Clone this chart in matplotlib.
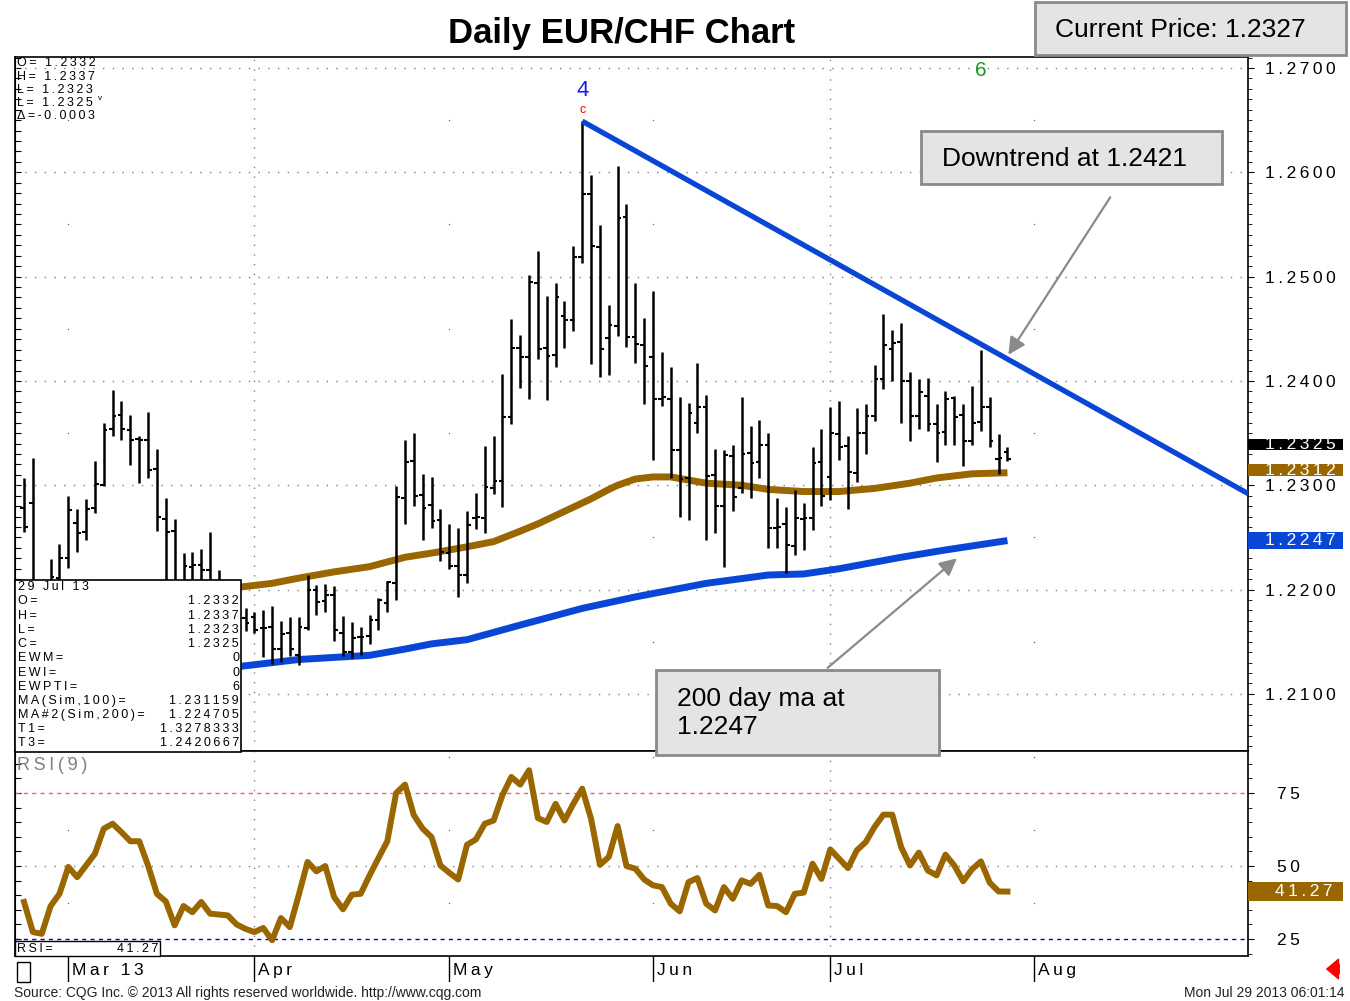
import numpy as np
import matplotlib
matplotlib.use("Agg")
import matplotlib.pyplot as plt
from matplotlib.patches import Rectangle, FancyArrowPatch
from matplotlib.transforms import blended_transform_factory
from matplotlib.ticker import MultipleLocator

plt.rcParams['font.family'] = ['Liberation Sans', 'DejaVu Sans']

# daily EUR/CHF bars, trading day 0 = 22 Feb 2013 ... 111 = 29 Jul 2013
opens = [1.2278, 1.2283, 1.2195, 1.2190, 1.2211, 1.2230, 1.2264, 1.2255, 1.2278, 1.2300,
         1.2354, 1.2367, 1.2353, 1.2344, 1.2343, 1.2316, 1.2268, 1.2256, 1.2205, 1.2222,
         1.2224, 1.2219, 1.2200, 1.2180, 1.2175, 1.2173, 1.2174, 1.2163, 1.2164, 1.2143,
         1.2158, 1.2137, 1.2163, 1.2200, 1.2189, 1.2195, 1.2158, 1.2140, 1.2155, 1.2156,
         1.2171, 1.2187, 1.2206, 1.2288, 1.2323, 1.2291, 1.2281, 1.2267, 1.2235, 1.2223,
         1.2214, 1.2269, 1.2269, 1.2297, 1.2304, 1.2365, 1.2432, 1.2423, 1.2494, 1.2432,
         1.2425, 1.2462, 1.2458, 1.2519, 1.2579, 1.2528, 1.2441, 1.2453, 1.2557, 1.2442,
         1.2434, 1.2423, 1.2383, 1.2383, 1.2334, 1.2307, 1.2360, 1.2375, 1.2310, 1.2280,
         1.2328, 1.2297, 1.2331, 1.2322, 1.2339, 1.2259, 1.2263, 1.2242, 1.2268, 1.2269,
         1.2322, 1.2308, 1.2349, 1.2338, 1.2312, 1.2350, 1.2366, 1.2402, 1.2431, 1.2437,
         1.2400, 1.2366, 1.2386, 1.2359, 1.2351, 1.2384, 1.2367, 1.2342, 1.2361, 1.2375,
         1.2325, 1.2332]
highs = [1.2307, 1.2326, 1.2205, 1.2229, 1.2244, 1.2290, 1.2277, 1.2287, 1.2323, 1.2360,
         1.2391, 1.2381, 1.2367, 1.2347, 1.2370, 1.2335, 1.2288, 1.2268, 1.2235, 1.2236,
         1.2239, 1.2255, 1.2219, 1.2200, 1.2195, 1.2182, 1.2179, 1.2180, 1.2184, 1.2170,
         1.2174, 1.2174, 1.2214, 1.2204, 1.2205, 1.2203, 1.2175, 1.2169, 1.2164, 1.2176,
         1.2192, 1.2208, 1.2299, 1.2343, 1.2350, 1.2311, 1.2308, 1.2277, 1.2263, 1.2259,
         1.2275, 1.2293, 1.2338, 1.2347, 1.2407, 1.2459, 1.2444, 1.2502, 1.2525, 1.2481,
         1.2494, 1.2477, 1.2529, 1.2649, 1.2597, 1.2549, 1.2473, 1.2606, 1.2570, 1.2494,
         1.2460, 1.2486, 1.2428, 1.2413, 1.2385, 1.2379, 1.2417, 1.2387, 1.2335, 1.2334,
         1.2339, 1.2385, 1.2357, 1.2363, 1.2350, 1.2288, 1.2279, 1.2295, 1.2283, 1.2337,
         1.2354, 1.2375, 1.2381, 1.2347, 1.2374, 1.2378, 1.2415, 1.2464, 1.2449, 1.2456,
         1.2409, 1.2402, 1.2403, 1.2378, 1.2390, 1.2386, 1.2378, 1.2395, 1.2430, 1.2385,
         1.2349, 1.2337]
lows = [1.2255, 1.2185, 1.2170, 1.2180, 1.2205, 1.2221, 1.2236, 1.2248, 1.2273, 1.2299,
        1.2347, 1.2343, 1.2319, 1.2302, 1.2307, 1.2256, 1.2195, 1.2190, 1.2190, 1.2195,
        1.2200, 1.2185, 1.2170, 1.2160, 1.2155, 1.2160, 1.2158, 1.2135, 1.2129, 1.2131,
        1.2136, 1.2128, 1.2161, 1.2176, 1.2179, 1.2151, 1.2136, 1.2134, 1.2137, 1.2148,
        1.2161, 1.2179, 1.2190, 1.2263, 1.2280, 1.2248, 1.2259, 1.2227, 1.2220, 1.2193,
        1.2206, 1.2258, 1.2254, 1.2292, 1.2279, 1.2359, 1.2393, 1.2383, 1.2421, 1.2382,
        1.2413, 1.2432, 1.2448, 1.2513, 1.2416, 1.2404, 1.2406, 1.2443, 1.2433, 1.2417,
        1.2378, 1.2324, 1.2376, 1.2307, 1.2270, 1.2267, 1.2350, 1.2248, 1.2254, 1.2222,
        1.2275, 1.2293, 1.2288, 1.2307, 1.2240, 1.2240, 1.2216, 1.2233, 1.2238, 1.2257,
        1.2280, 1.2286, 1.2324, 1.2277, 1.2303, 1.2330, 1.2362, 1.2392, 1.2400, 1.2360,
        1.2342, 1.2354, 1.2352, 1.2322, 1.2339, 1.2339, 1.2318, 1.2339, 1.2352, 1.2337,
        1.2311, 1.2323]
closes = [1.2260, 1.2200, 1.2180, 1.2212, 1.2230, 1.2276, 1.2254, 1.2277, 1.2301, 1.2353,
          1.2366, 1.2354, 1.2343, 1.2343, 1.2315, 1.2270, 1.2255, 1.2200, 1.2223, 1.2224,
          1.2219, 1.2200, 1.2180, 1.2175, 1.2170, 1.2168, 1.2161, 1.2163, 1.2143, 1.2157,
          1.2143, 1.2164, 1.2200, 1.2188, 1.2195, 1.2161, 1.2140, 1.2154, 1.2155, 1.2171,
          1.2190, 1.2207, 1.2289, 1.2322, 1.2290, 1.2278, 1.2266, 1.2236, 1.2223, 1.2214,
          1.2262, 1.2270, 1.2298, 1.2304, 1.2365, 1.2432, 1.2423, 1.2495, 1.2431, 1.2424,
          1.2480, 1.2458, 1.2519, 1.2579, 1.2529, 1.2431, 1.2454, 1.2556, 1.2442, 1.2435,
          1.2414, 1.2383, 1.2385, 1.2334, 1.2306, 1.2369, 1.2375, 1.2309, 1.2280, 1.2329,
          1.2289, 1.2330, 1.2321, 1.2339, 1.2259, 1.2260, 1.2243, 1.2269, 1.2269, 1.2321,
          1.2290, 1.2350, 1.2337, 1.2313, 1.2350, 1.2366, 1.2402, 1.2434, 1.2436, 1.2400,
          1.2366, 1.2389, 1.2359, 1.2350, 1.2383, 1.2365, 1.2342, 1.2360, 1.2375, 1.2342,
          1.2326, 1.2325]
rsi = [37.7, 27.4, 26.8, 36.3, 40.5, 49.7, 46.2, 50.2, 54.2, 62.8,
       64.5, 61.6, 58.5, 58.5, 50.2, 40.5, 37.9, 29.7, 36.3, 34.2,
       37.7, 33.7, 33.4, 33.1, 30.0, 28.5, 27.4, 28.8, 24.6, 32.2,
       29.1, 40.0, 51.4, 48.2, 50.0, 39.4, 35.2, 40.2, 40.5, 46.8,
       52.7, 58.5, 75.0, 77.9, 67.4, 62.8, 59.9, 50.2, 47.7, 45.4,
       57.3, 59.1, 64.5, 65.6, 74.3, 80.5, 77.9, 82.8, 66.4, 65.1,
       71.3, 65.6, 71.3, 76.5, 66.2, 50.4, 53.1, 63.7, 50.0, 49.1,
       45.4, 43.4, 42.8, 37.1, 34.5, 44.5, 45.9, 37.1, 34.8, 42.8,
       38.8, 45.1, 43.9, 47.0, 36.5, 36.3, 34.2, 40.5, 40.9, 50.8,
       45.6, 55.7, 52.5, 49.3, 55.4, 58.2, 63.4, 67.6, 67.6, 56.5,
       50.2, 54.6, 48.5, 46.8, 53.9, 50.2, 44.8, 48.9, 51.6, 44.3,
       41.3, 41.27]

# moving averages sampled at bar indices
ma100_idx = [20, 24, 28, 31, 35, 39, 43, 46, 50, 53, 56, 58, 62, 64, 66, 67, 69, 71,
             73, 77, 81, 84, 88, 92, 96, 100, 103, 107, 111]
ma100 = [1.2198, 1.2202, 1.2206, 1.2211, 1.2217, 1.2222, 1.2231, 1.2235, 1.2241, 1.2246,
         1.2256, 1.2263, 1.2279, 1.2287, 1.2296, 1.2300, 1.2306, 1.2308, 1.2308, 1.2302,
         1.2300, 1.2296, 1.2294, 1.2294, 1.2297, 1.2302, 1.2307, 1.2311, 1.2312]
ma200_idx = [20, 24, 31, 39, 43, 46, 50, 56, 63, 69, 77, 84, 88, 92, 99, 104, 111]
ma200 = [1.2123, 1.2126, 1.2133, 1.2137, 1.2143, 1.2148, 1.2152, 1.2166, 1.2182, 1.2193,
         1.2206, 1.2214, 1.2215, 1.2220, 1.2231, 1.2238, 1.2247]

trend_idx = [63, 111]
trend_val = [1.2649, 1.2421]

month_idx = [5, 26, 48, 71, 91, 114]
month_labels = ['Mar 13', 'Apr', 'May', 'Jun', 'Jul', 'Aug']
quarter_starts = ['Apr', 'Jul']
price_ticks = [1.21, 1.22, 1.23, 1.24, 1.25, 1.26, 1.27]
rsi_ticks = [25, 50, 75]

info_rows = [('O=', '1.2332'), ('H=', '1.2337'), ('L=', '1.2323'), ('C=', '1.2325'),
             ('EWM=', '0'), ('EWI=', '0'), ('EWPTI=', '6'),
             ('MA(Sim,100)=', '1.231159'), ('MA#2(Sim,200)=', '1.224705'),
             ('T1=', '1.3278333'), ('T3=', '1.2420667')]
top_rows = ['O= 1.2332', 'H= 1.2337', 'L= 1.2323', 'L= 1.2325', 'Δ=-0.0003']

BROWN = '#996600'
BLUE = '#0a46d6'
GRID = '#808080'
DOTS = (0, (1, 6))


def sp(s):
    return '\u2009'.join(s)


def fx(px):
    return px / 1350


def fy(py):
    return 1 - py / 1001


fig = plt.figure(figsize=(13.5, 10.01), dpi=100)
ax = fig.add_axes([fx(15), fy(751), fx(1248) - fx(15), fy(57) - fy(751)])
axr = fig.add_axes([fx(15), fy(956), fx(1248) - fx(15), fy(751) - fy(956)])
axd = fig.add_axes([fx(15), fy(982), fx(1248) - fx(15), fy(956) - fy(982)])

x = np.arange(len(closes))
xl = (-1.02, 138.15)

# ---------------- price panel
ax.set_xlim(*xl)
ax.set_ylim(1.20453, 1.27105)
ax.set_xticks([])
for p in price_ticks:
    ax.axhline(p, color=GRID, lw=1, ls=DOTS, zorder=1)
for i, lab in zip(month_idx, month_labels):
    if lab in quarter_starts:
        ax.axvline(i, color=GRID, lw=1, ls=DOTS, zorder=1)
    else:
        ax.plot([i] * 6, np.arange(1.215, 1.27, 0.01), ls='none', marker='s', ms=0.9,
                mew=0, color='#666666', zorder=1)

ax.plot(ma100_idx, ma100, color=BROWN, lw=5, solid_capstyle='butt', zorder=2)
ax.plot(ma200_idx, ma200, color=BLUE, lw=5, solid_capstyle='butt', zorder=2)

ax.vlines(x, lows, highs, color='black', lw=1.8, zorder=3)
ax.hlines(opens, x - 0.42, x, color='black', lw=1.5, zorder=3)
ax.hlines(closes, x, x + 0.42, color='black', lw=1.5, zorder=3)

slope = (trend_val[1] - trend_val[0]) / (trend_idx[1] - trend_idx[0])
ax.plot([trend_idx[0], xl[1]], [trend_val[0], trend_val[0] + slope * (xl[1] - trend_idx[0])],
        color=BLUE, lw=3.8, solid_capstyle='butt', zorder=4)

# wave labels
ax.annotate('c', (63, highs[63]), xytext=(0, 8), textcoords='offset points', ha='center',
            va='center', color='red', size=9)
ax.annotate('4', (63, highs[63]), xytext=(0, 22), textcoords='offset points', ha='center',
            va='center', color='#1a1aff', size=16)
ax.text(108, 1.2698, '6', ha='center', va='center', color='#1a9a1a', size=15)

ax.yaxis.tick_right()
ax.set_yticks(price_ticks)
ax.set_yticklabels([sp(f'{p:.4f}') for p in price_ticks])
ax.yaxis.set_minor_locator(MultipleLocator(0.001))
ax.tick_params(axis='y', which='major', direction='out', length=4, pad=8, labelsize=12.5)
ax.tick_params(axis='y', which='minor', direction='out', length=3)
sec = ax.secondary_yaxis('left')
sec.yaxis.set_major_locator(MultipleLocator(0.001))
sec.tick_params(direction='in', length=4, labelleft=False)
for s in ax.spines.values():
    s.set_linewidth(1.2)

# right-hand value flags
tr = blended_transform_factory(ax.transAxes, ax.transData)
flag_w = (1343 - 1248) / 1233
lab_x = (1265 - 15) / 1233
flags = [('1.2312', 1.2312, BROWN, 0.00025, 0.00115),
         ('1.2325', 1.2325, 'black', 0.00140, 0.00110),
         ('1.2247', 1.2247, BLUE, 0.0, 0.00170)]
for txt, val, col, off, h in flags:
    c = val + off
    ax.add_patch(Rectangle((1.0, c - h / 2), flag_w, h, transform=tr, facecolor=col,
                           edgecolor='none', clip_on=False, zorder=6))
    ax.text(lab_x, c, sp(txt), transform=tr, color='white', size=12.5, va='center',
            ha='left', clip_on=False, zorder=7)

# ---------------- RSI panel
axr.set_xlim(*xl)
axr.set_ylim(19.2, 89.4)
axr.set_xticks([])
axr.axhline(50, color=GRID, lw=1, ls=DOTS)
axr.axhline(75, color='#ff6060', lw=1, ls=(0, (3, 3)))
axr.axhline(25, color='#0000cc', lw=1, ls=(0, (3, 3)))
for i, lab in zip(month_idx, month_labels):
    if lab in quarter_starts:
        axr.axvline(i, color=GRID, lw=1, ls=DOTS)
    else:
        axr.plot([i] * 3, [37.5, 62.5, 87.5], ls='none', marker='s', ms=0.9, mew=0,
                 color='#666666')
axr.plot(x, rsi, color=BROWN, lw=4.3, solid_joinstyle='round', zorder=3)
axr.yaxis.tick_right()
axr.set_yticks(rsi_ticks)
axr.set_yticklabels([sp(str(v)) for v in rsi_ticks])
axr.yaxis.set_minor_locator(MultipleLocator(5))
axr.tick_params(axis='y', which='major', direction='out', length=4, pad=17, labelsize=12.5)
axr.tick_params(axis='y', which='minor', direction='out', length=3)
secr = axr.secondary_yaxis('left')
secr.yaxis.set_major_locator(MultipleLocator(5))
secr.tick_params(direction='in', length=4, labelleft=False)
for s in axr.spines.values():
    s.set_linewidth(1.2)
axr.text(0.002, 0.97, sp('RSI(9)'), transform=axr.transAxes, va='top', ha='left',
         color='#808080', size=13)
trr = blended_transform_factory(axr.transAxes, axr.transData)
axr.add_patch(Rectangle((1.0, rsi[-1] - 3.4), flag_w, 6.8, transform=trr, facecolor=BROWN,
                        edgecolor='none', clip_on=False, zorder=6))
axr.text((1275 - 15) / 1233, rsi[-1], sp(f'{rsi[-1]:.2f}'), transform=trr, color='white',
         size=12.5, va='center', ha='left', clip_on=False, zorder=7)

# ---------------- date strip
axd.set_xlim(*xl)
axd.set_ylim(0, 1)
axd.axis('off')
axd.vlines(month_idx, 0, 1, color='black', lw=1)
for i, lab in zip(month_idx, month_labels):
    axd.text(i + 0.45, 0.45, sp(lab), ha='left', va='center', size=12.5)

fig.add_artist(Rectangle((fx(17), fy(982)), fx(30) - fx(17), fy(962) - fy(982),
                         transform=fig.transFigure, facecolor='white', edgecolor='black', lw=1))
fig.add_artist(FancyArrowPatch((fx(1342), fy(969)), (fx(1324), fy(969)),
                               transform=fig.transFigure, color='red',
                               arrowstyle='simple,head_length=0.6,head_width=1.0,tail_width=0.5',
                               mutation_scale=14))

# ---------------- info panels
for k, row in enumerate(top_rows):
    fig.text(fx(17), fy(63.5 + 13.2 * k), sp(row), size=9, va='center', ha='left')
fig.text(fx(98), fy(99), 'v', size=6, va='center', ha='left')

fig.add_artist(Rectangle((fx(15), fy(752)), fx(241) - fx(15), fy(580) - fy(752),
                         transform=fig.transFigure, facecolor='white', edgecolor='black', lw=1.2))
fig.text(fx(18), fy(587.5), sp('29 Jul 13'), size=9, va='center', ha='left')
for k, (lab, val) in enumerate(info_rows):
    yy = 601.5 + 14.2 * k
    fig.text(fx(18), fy(yy), sp(lab), size=9, va='center', ha='left')
    fig.text(fx(239), fy(yy), sp(val), size=9, va='center', ha='right')

fig.add_artist(Rectangle((fx(15), fy(956)), fx(160) - fx(15), fy(941) - fy(956),
                         transform=fig.transFigure, facecolor='white', edgecolor='black', lw=1))
fig.text(fx(17), fy(948.5), sp('RSI='), size=9, va='center', ha='left')
fig.text(fx(158), fy(948.5), sp(f'{rsi[-1]:.2f}'), size=9, va='center', ha='right')

# ---------------- title and call-outs
fig.text(fx(622), fy(33), 'Daily EUR/CHF Chart', ha='center', va='center', size=25,
         weight='bold')

BOX_FC = '#e4e4e4'
BOX_EC = '#8a8a8a'
fig.add_artist(Rectangle((fx(1035), fy(55)), fx(1346) - fx(1035), fy(2) - fy(55),
                         transform=fig.transFigure, facecolor=BOX_FC, edgecolor=BOX_EC, lw=2))
fig.text(fx(1055), fy(30), 'Current Price: 1.2327', size=19, va='center', ha='left')

fig.add_artist(Rectangle((fx(921), fy(184)), fx(1222) - fx(921), fy(131) - fy(184),
                         transform=fig.transFigure, facecolor=BOX_FC, edgecolor=BOX_EC, lw=2))
fig.text(fx(942), fy(159), 'Downtrend at 1.2421', size=19, va='center', ha='left')

fig.add_artist(Rectangle((fx(656), fy(755)), fx(939) - fx(656), fy(670) - fy(755),
                         transform=fig.transFigure, facecolor=BOX_FC, edgecolor=BOX_EC, lw=2))
fig.text(fx(677), fy(713), '200 day ma at\n1.2247', size=19, va='center', ha='left',
         linespacing=1.25)

arrow = dict(arrowstyle='-|>', color='#8a8a8a', lw=1.6, mutation_scale=26,
             shrinkA=0, shrinkB=0)
ax.annotate('', xy=(111.1, 1.2425), xytext=(122.6, 1.2576), arrowprops=arrow,
            annotation_clip=False)
ax.annotate('', xy=(105.3, 1.2230), xytext=(90.7, 1.2125), arrowprops=arrow,
            annotation_clip=False)

fig.text(fx(14), fy(993), 'Source: CQG Inc. © 2013 All rights reserved worldwide. '
         'http://www.cqg.com', size=10, va='center', ha='left', color='#222222')
fig.text(fx(1345), fy(993), 'Mon Jul 29 2013 06:01:14', size=10, va='center', ha='right',
         color='#222222')

fig.savefig('out.png', dpi=100)
